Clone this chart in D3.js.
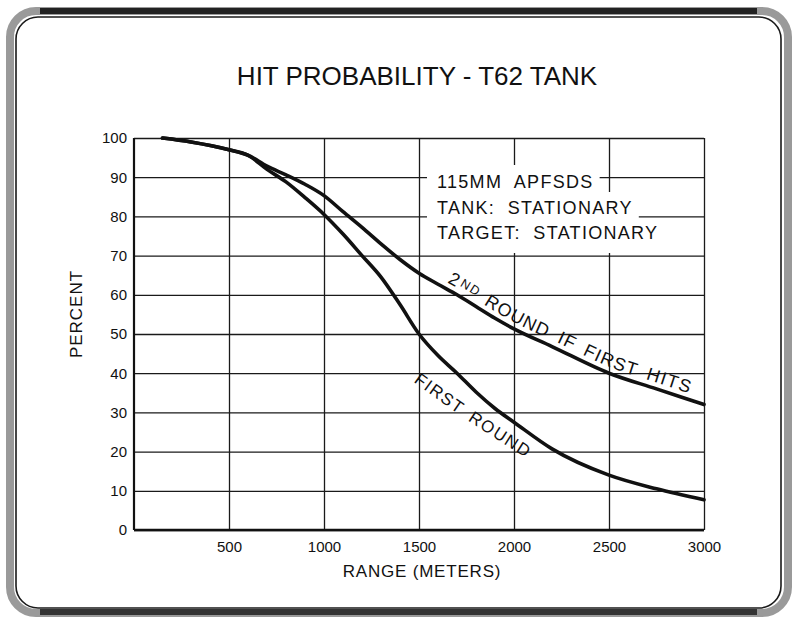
<!DOCTYPE html>
<html>
<head>
<meta charset="utf-8">
<script src="https://cdnjs.cloudflare.com/ajax/libs/d3/7.8.5/d3.min.js"></script>
<style>
  body { margin: 0; background: #fff; }
  svg { display: block; font-family: "Liberation Sans", Arial, Helvetica, sans-serif; }
</style>
</head>
<body>
<div class="chart"></div>
<script>
// DATA //
const ranges = [150, 300, 500, 600, 700, 800, 900, 1000, 1100, 1200, 1300, 1400, 1500, 1600, 1700, 1800, 1900, 2000, 2200, 2500, 2750, 3000];
const firstRound = [100, 99, 97, 95.6, 92, 88.8, 84.8, 80.5, 75.5, 70, 64.5, 57.5, 50, 44.5, 40, 35.2, 31, 27.5, 20.7, 14, 10.5, 7.7];
const secondRound = [100, 99, 97, 95.6, 92.8, 90.6, 88.2, 85.3, 81.2, 77.2, 73, 69, 65.5, 62.7, 60, 57, 54, 51.3, 46.8, 40, 36, 32];
const yTicks = [0, 10, 20, 30, 40, 50, 60, 70, 80, 90, 100];
const xTicks = [500, 1000, 1500, 2000, 2500, 3000];
const noteLines = ["115MM  APFSDS", "TANK:  STATIONARY", "TARGET:  STATIONARY"];
const secondWords = ["2ND", "ROUND", "IF", "FIRST", "HITS"];
const firstWords = ["FIRST", "ROUND"];
// label guide for "FIRST ROUND" in data units (range, percent)
const firstLabelGuide = [[1470, 37.8], [1750, 28.2], [2070, 18.2]];

// Chart sizes
const w = 797;
const h = 622;
const margin = { top: 138, right: 93, bottom: 92, left: 134 };
const ink = "#111";

const svg = d3.select(".chart").append("svg").attr("width", w).attr("height", h);

// FRAME //
svg.append("rect")
  .attr("x", 10).attr("y", 11).attr("width", w - 19).attr("height", h - 20)
  .attr("rx", 26)
  .attr("fill", "none").attr("stroke", "#9a9a9a").attr("stroke-width", 8);
svg.append("rect")
  .attr("x", 16).attr("y", 17).attr("width", w - 32).attr("height", h - 31)
  .attr("rx", 22)
  .attr("fill", "#fff").attr("stroke", "#1a1a1a").attr("stroke-width", 1.6);
// darker top and bottom edges of the scan
svg.append("line").attr("x1", 40).attr("x2", w - 40).attr("y1", 11).attr("y2", 11)
  .attr("stroke", "#222").attr("stroke-width", 6);
svg.append("line").attr("x1", 40).attr("x2", w - 40).attr("y1", h - 10).attr("y2", h - 10)
  .attr("stroke", "#333").attr("stroke-width", 6);

// SCALES //
const x = d3.scaleLinear().domain([0, 3000]).range([margin.left, w - margin.right]);
const y = d3.scaleLinear().domain([0, 100]).range([h - margin.bottom, margin.top]);

// TITLE //
svg.append("text")
  .text("HIT PROBABILITY - T62 TANK")
  .attr("x", 417).attr("y", 85)
  .attr("text-anchor", "middle")
  .attr("font-size", 26)
  .attr("fill", ink);

// GRID + AXES //
const yAxis = svg.append("g")
  .attr("transform", `translate(${margin.left},0)`)
  .call(d3.axisLeft(y).tickValues(yTicks).tickFormat(d3.format("d"))
    .tickSize(-(w - margin.left - margin.right)).tickPadding(7));
const xAxis = svg.append("g")
  .attr("transform", `translate(0,${h - margin.bottom})`)
  .call(d3.axisBottom(x).tickValues(xTicks).tickFormat(d3.format("d"))
    .tickSize(-(h - margin.top - margin.bottom)).tickPadding(11));

[yAxis, xAxis].forEach((g) => {
  g.select(".domain").remove();
  g.selectAll(".tick line").attr("stroke", "#1a1a1a").attr("stroke-width", 1.3);
  g.selectAll(".tick text")
    .attr("fill", ink)
    .attr("font-size", 15)
    .attr("font-family", "Liberation Sans, Arial, sans-serif");
});

// Axis frame (left and bottom heavier)
svg.append("line")
  .attr("x1", x(0)).attr("x2", x(0)).attr("y1", y(100)).attr("y2", y(0))
  .attr("stroke", ink).attr("stroke-width", 2.2);
svg.append("line")
  .attr("x1", x(0)).attr("x2", x(3000)).attr("y1", y(0)).attr("y2", y(0))
  .attr("stroke", ink).attr("stroke-width", 2.4);

// Axis labels
svg.append("text")
  .text("RANGE (METERS)")
  .attr("x", 422).attr("y", 577)
  .attr("text-anchor", "middle")
  .attr("font-size", 17)
  .attr("letter-spacing", 0.8)
  .attr("fill", ink);
svg.append("text")
  .text("PERCENT")
  .attr("transform", "translate(82,314) rotate(-90)")
  .attr("text-anchor", "middle")
  .attr("font-size", 17)
  .attr("letter-spacing", 1)
  .attr("fill", ink);

// NOTE BOX //
const note = svg.append("g");
const noteX = 437;
const noteBase = [188, 214, 239];
noteLines.forEach((line, i) => {
  const bg = note.append("rect").attr("fill", "#fff");
  const t = note.append("text")
    .text(line)
    .attr("x", noteX).attr("y", noteBase[i])
    .attr("font-size", 18)
    .attr("letter-spacing", 1.3)
    .style("white-space", "pre")
    .attr("fill", ink);
  const bb = t.node().getBBox();
  const top = i === 0 ? noteBase[i] - 23 : noteBase[i - 1] + 4;
  const bottom = i === noteLines.length - 1 ? noteBase[i] + 14 : noteBase[i] + 4;
  bg.attr("x", noteX - 10).attr("y", top)
    .attr("width", bb.width + 16).attr("height", bottom - top);
});

// CURVES //
const line = d3.line().x((d) => x(d[0])).y((d) => y(d[1])).curve(d3.curveMonotoneX);
const firstPts = ranges.map((r, i) => [r, firstRound[i]]);
const secondPts = ranges.map((r, i) => [r, secondRound[i]]);

svg.append("path")
  .attr("id", "second-curve")
  .attr("d", line(secondPts))
  .attr("fill", "none").attr("stroke", ink).attr("stroke-width", 3.6)
  .attr("stroke-linecap", "round");
svg.append("path")
  .attr("d", line(firstPts))
  .attr("fill", "none").attr("stroke", ink).attr("stroke-width", 3.6)
  .attr("stroke-linecap", "round");

// find length along a path where it reaches a given x pixel
function lengthAtX(node, px) {
  let lo = 0, hi = node.getTotalLength();
  for (let k = 0; k < 40; k++) {
    const mid = (lo + hi) / 2;
    if (node.getPointAtLength(mid).x < px) lo = mid; else hi = mid;
  }
  return lo;
}

// lay words along a path between two x pixels, one text element per word,
// stretching letter spacing so the word gaps stay about one space wide
function wordsOnPath(words, pathId, x0, x1, dy, size) {
  const node = svg.select("#" + pathId).node();
  const start = lengthAtX(node, x0);
  const end = lengthAtX(node, x1);
  const space = size * 0.55;
  const texts = words.map((word) => {
    const t = svg.append("text")
      .attr("font-size", size)
      .attr("dy", dy)
      .attr("fill", ink);
    const tp = t.append("textPath").attr("href", "#" + pathId);
    if (word === "2ND") {
      tp.append("tspan").text("2");
      tp.append("tspan").text("ND").attr("font-size", size * 0.7).attr("dy", -3).attr("dx", 1);
    } else {
      tp.text(word);
    }
    return t;
  });
  const chars = d3.sum(words, (d) => d.length);
  const natural = d3.sum(texts, (t) => t.node().getComputedTextLength());
  const spacing = Math.max(0, (end - start - natural - space * (words.length - 1)) / chars);
  texts.forEach((t) => t.attr("letter-spacing", spacing));
  const widths = texts.map((t) => t.node().getComputedTextLength());
  const gap = (end - start - d3.sum(widths)) / Math.max(1, words.length - 1);
  let pos = start;
  texts.forEach((t, i) => {
    t.select("textPath").attr("startOffset", pos);
    pos += widths[i] + gap;
  });
}

// "2ND ROUND IF FIRST HITS" riding above the upper curve
wordsOnPath(secondWords, "second-curve", 444, 688, -6, 18);

// "FIRST ROUND" under the lower curve
const guide = d3.line().x((d) => x(d[0])).y((d) => y(d[1])).curve(d3.curveNatural);
svg.append("path")
  .attr("id", "first-guide")
  .attr("d", guide(firstLabelGuide))
  .attr("fill", "none").attr("stroke", "none");
wordsOnPath(firstWords, "first-guide", x(1470), x(2068), 0, 17);
</script>
</body>
</html>
